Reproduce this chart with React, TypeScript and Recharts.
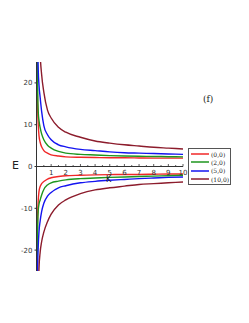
import { LineChart, Line, XAxis, YAxis, ReferenceLine } from "recharts";

const kValues = [0.03, 0.05, 0.08, 0.12, 0.17, 0.25, 0.35, 0.5, 0.75, 1, 1.5, 2, 3, 4, 5, 6, 7, 8, 9, 10];

// upper branches
const e00Up = [32, 21, 14, 10, 7.4, 5.8, 4.7, 3.8, 3.2, 2.8, 2.5, 2.3, 2.2, 2.15, 2.1, 2.1, 2.05, 2.0, 2.0, 2.0];
const e20Up = [40, 27, 18, 13, 11, 9.3, 7.8, 6.4, 5.1, 4.4, 3.6, 3.2, 2.9, 2.75, 2.6, 2.5, 2.45, 2.4, 2.35, 2.3];
const e50Up = [60, 45, 31, 23, 19.5, 16.5, 13.2, 9.8, 7.6, 6.4, 5.2, 4.7, 4.1, 3.8, 3.5, 3.3, 3.2, 3.1, 3.0, 2.9];
const e100Up = [120, 90, 65, 48, 37, 27, 22, 17.8, 13.5, 11.6, 9.4, 8.2, 7.0, 6.1, 5.6, 5.2, 4.9, 4.6, 4.4, 4.2];

// lower branches
const e00Down = [-30, -18, -11.5, -8, -6.0, -4.8, -4.1, -3.6, -3.0, -2.7, -2.4, -2.2, -2.1, -2.0, -1.95, -1.9, -1.9, -1.85, -1.8, -1.8];
const e20Down = [-40, -24, -14.5, -10.5, -9, -8, -6.8, -5.5, -4.4, -3.9, -3.5, -3.2, -2.9, -2.75, -2.6, -2.5, -2.4, -2.3, -2.2, -2.1];
const e50Down = [-60, -38, -24, -19, -15.6, -13, -10.8, -8.8, -7.1, -6.2, -5.1, -4.6, -3.9, -3.55, -3.3, -3.1, -2.9, -2.75, -2.6, -2.5];
const e100Down = [-120, -80, -50, -33, -24.4, -20.5, -18, -15.7, -13.2, -11.4, -9.2, -8.0, -6.5, -5.6, -5.1, -4.7, -4.3, -4.1, -3.9, -3.7];

const seriesNames = ["(0,0)", "(2,0)", "(5,0)", "(10,0)"];
const COLORS = ["#f02828", "#1e961e", "#1414f0", "#8c1c2c"];

const xTicks = [0.5, 1, 1.5, 2, 2.5, 3, 3.5, 4, 4.5, 5, 5.5, 6, 6.5, 7, 7.5, 8, 8.5, 9, 9.5, 10];
const yTicks = [-20, -10, 0, 10, 20];

const data = kValues.map((k, i) => ({
  k,
  up0: e00Up[i],
  up1: e20Up[i],
  up2: e50Up[i],
  up3: e100Up[i],
  dn0: e00Down[i],
  dn1: e20Down[i],
  dn2: e50Down[i],
  dn3: e100Down[i],
}));

const TOP = 62;
const PLOT_H = 209;
const ZERO_Y = TOP + PLOT_H / 2;

const XTick = (props: any) => {
  const { x, payload } = props;
  const v = payload.value;
  const isInt = Number.isInteger(v);
  return (
    <g>
      <line x1={x} x2={x} y1={ZERO_Y - (isInt ? 2.5 : 1.5)} y2={ZERO_Y} stroke="#333" strokeWidth={0.8} />
      {isInt && (
        <text x={x} y={ZERO_Y + 8} textAnchor="middle" fontSize={7} fill="#333" fontFamily="DejaVu Sans">
          {v}
        </text>
      )}
    </g>
  );
};

const LegendBox = () => (
  <div
    style={{
      position: "absolute",
      left: 188,
      top: 148,
      border: "1px solid #555",
      background: "#fff",
      width: 41,
      padding: "1px 0",
      fontFamily: "DejaVu Serif",
      fontSize: 6,
      color: "#222",
    }}
  >
    {seriesNames.map((name, i) => (
      <div key={name} style={{ display: "flex", alignItems: "center", height: 8.3 }}>
        <svg width={22} height={4}>
          <line x1={2} x2={20} y1={2} y2={2} stroke={COLORS[i]} strokeWidth={1.5} />
        </svg>
        <span>{name}</span>
      </div>
    ))}
  </div>
);

export default function App() {
  return (
    <div style={{ position: "absolute", left: 0, top: 0, width: 249, height: 323, background: "#fff" }}>
      <LineChart width={249} height={323} data={data} margin={{ top: TOP, right: 66, bottom: 323 - TOP - PLOT_H - 20, left: 6.5 }}>
        <XAxis
          type="number"
          dataKey="k"
          domain={[0, 10]}
          ticks={xTicks}
          axisLine={false}
          tickLine={false}
          tick={<XTick />}
          height={20}
          interval={0}
        />
        <YAxis
          type="number"
          domain={[-25, 25]}
          allowDataOverflow
          ticks={yTicks}
          width={30}
          axisLine={{ stroke: "#333", strokeWidth: 1 }}
          tickLine={{ stroke: "#333" }}
          tickSize={2}
          tick={{ fontSize: 7, fill: "#333", fontFamily: "DejaVu Sans" }}
        />
        <ReferenceLine y={0} stroke="#333" strokeWidth={1} />
        {[0, 1, 2, 3].map((i) => (
          <Line
            key={`up${i}`}
            dataKey={`up${i}`}
            type="monotone"
            stroke={COLORS[i]}
            strokeWidth={1.4}
            dot={false}
            isAnimationActive={false}
          />
        ))}
        {[0, 1, 2, 3].map((i) => (
          <Line
            key={`dn${i}`}
            dataKey={`dn${i}`}
            type="monotone"
            stroke={COLORS[i]}
            strokeWidth={1.4}
            dot={false}
            isAnimationActive={false}
          />
        ))}
      </LineChart>
      <LegendBox />
      <div style={{ position: "absolute", left: 12, top: 159, fontSize: 11, fontFamily: "DejaVu Sans", color: "#222" }}>E</div>
      <div style={{ position: "absolute", left: 106, top: 175, fontSize: 8, fontFamily: "DejaVu Sans", color: "#222" }}>K</div>
      <div style={{ position: "absolute", left: 203, top: 94, fontSize: 9, fontFamily: "DejaVu Serif", color: "#222" }}>(f)</div>
    </div>
  );
}
